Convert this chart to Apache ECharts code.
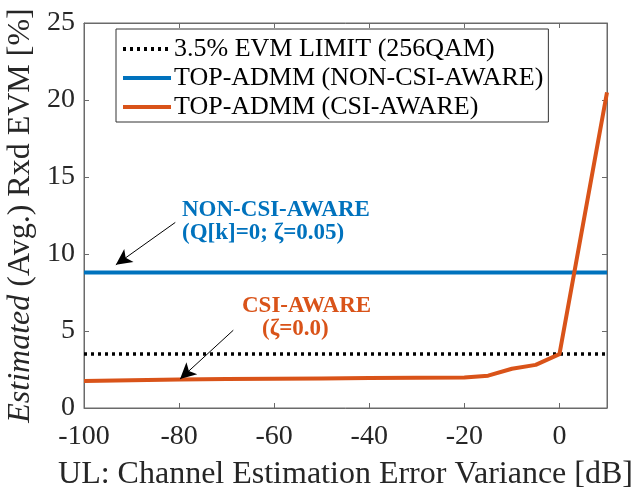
<!DOCTYPE html>
<html>
<head>
<meta charset="utf-8">
<script src="https://cdn.jsdelivr.net/npm/echarts@6/dist/echarts.min.js"></script>
<style>
  html, body { margin: 0; padding: 0; background: #fff; }
  #chart { width: 641px; height: 487px; }
</style>
</head>
<body>
<div id="chart"></div>
<script>
// data
var errVar = [-100, -90, -80, -70, -60, -50, -40, -30, -20, -15, -10, -5, 0, 10];
var csiAware = [1.75, 1.8, 1.85, 1.88, 1.9, 1.92, 1.94, 1.96, 1.98, 2.1, 2.55, 2.8, 3.5, 20.5];
var nonCsiAware = 8.8;
var evmLimit = 3.5;
var xRange = [-100, 10];
var yTicks = [0, 5, 10, 15, 20, 25];
var legendNames = ['3.5% EVM LIMIT (256QAM)', 'TOP-ADMM (NON-CSI-AWARE)', 'TOP-ADMM (CSI-AWARE)'];

var blue = '#0072BD';
var orange = '#D95319';
var serif = 'Liberation Serif';
var axisGray = '#6a6a6a';

function pairs(xs, ys) {
    return xs.map(function (x, i) { return [x, ys[i]]; });
}

// box axes without labels (top / right side of the MATLAB frame)
function frameAxis(pos, min, max, step) {
    return {
        type: 'value', position: pos, min: min, max: max, interval: step,
        axisLine: {show: true, onZero: false, lineStyle: {color: axisGray}},
        axisTick: {show: true, inside: true, length: 5, lineStyle: {color: axisGray}},
        axisLabel: {show: false},
        splitLine: {show: false}
    };
}

var myChart = echarts.init(document.getElementById('chart'));

var option = {
    animation: false,
    textStyle: {fontFamily: serif},
    grid: {
        left: 84, right: 34, top: 23, bottom: 79,
        containLabel: false, outerBoundsMode: 'none',
        show: true, borderColor: axisGray, borderWidth: 1
    },
    legend: {
        left: 116, top: 29,
        orient: 'vertical',
        backgroundColor: '#fff',
        borderColor: '#333', borderWidth: 1,
        padding: [7, 5, 2, 5],
        itemGap: 3,
        itemWidth: 48, itemHeight: 10,
        itemStyle: {opacity: 0},
        lineStyle: {width: 4},
        textStyle: {fontFamily: serif, fontSize: 26, color: '#000', padding: [0, 0, 0, -2]},
        data: legendNames
    },
    xAxis: [{
        type: 'value', min: xRange[0], max: xRange[1], interval: 20,
        name: 'UL: Channel Estimation Error Variance [dB]',
        nameLocation: 'middle', nameGap: 51,
        nameTextStyle: {fontFamily: serif, fontSize: 32, color: '#262626'},
        axisLine: {onZero: false, lineStyle: {color: axisGray}},
        axisTick: {inside: true, length: 5, lineStyle: {color: axisGray}},
        axisLabel: {fontFamily: serif, fontSize: 28, color: '#262626', margin: 15, showMaxLabel: false},
        splitLine: {show: false}
    }, frameAxis('top', xRange[0], xRange[1], 20)],
    yAxis: [{
        type: 'value', min: yTicks[0], max: yTicks[yTicks.length - 1], interval: 5,
        name: '{it|Estimated} (Avg.) Rxd EVM [%]',
        nameLocation: 'middle', nameGap: 43,
        nameTextStyle: {
            fontFamily: serif, fontSize: 32, color: '#262626',
            rich: {it: {fontFamily: serif, fontSize: 32, fontStyle: 'italic', color: '#262626'}}
        },
        axisLine: {show: true, onZero: false, lineStyle: {color: axisGray}},
        axisTick: {inside: true, length: 5, lineStyle: {color: axisGray}},
        axisLabel: {fontFamily: serif, fontSize: 28, color: '#262626', margin: 9},
        splitLine: {show: false}
    }, frameAxis('right', yTicks[0], yTicks[yTicks.length - 1], 5)],
    series: [{
        name: legendNames[0], type: 'line', symbol: 'none',
        color: '#000',
        lineStyle: {color: '#000', width: 3.5, type: [3, 4]},
        data: [[xRange[0], evmLimit], [xRange[1], evmLimit]],
        z: 3
    }, {
        name: legendNames[1], type: 'line', symbol: 'none',
        color: blue,
        lineStyle: {color: blue, width: 4},
        data: [[xRange[0], nonCsiAware], [xRange[1], nonCsiAware]],
        markLine: {
            silent: true, symbol: ['none', 'arrow'], symbolSize: [12, 16],
            label: {show: false},
            lineStyle: {color: '#000', width: 1, type: 'solid'},
            data: [[{coord: [-80.8, 12.05]}, {coord: [-93.3, 9.3]}]]
        }
    }, {
        name: legendNames[2], type: 'line', symbol: 'none',
        color: orange,
        lineStyle: {color: orange, width: 4},
        data: pairs(errVar, csiAware),
        markLine: {
            silent: true, symbol: ['none', 'arrow'], symbolSize: [12, 16],
            label: {show: false},
            lineStyle: {color: '#000', width: 1, type: 'solid'},
            data: [[{coord: [-68.6, 5.05]}, {coord: [-79.8, 1.88]}]]
        }
    }],
    graphic: [{
        type: 'text', left: 182, top: 199,
        style: {text: 'NON-CSI-AWARE\n(Q[k]=0; ζ=0.05)', fill: blue, font: 'bold 23px "Liberation Serif"', lineHeight: 23}
    }, {
        type: 'text', left: 242, top: 295,
        style: {text: 'CSI-AWARE', fill: orange, font: 'bold 23px "Liberation Serif"'}
    }, {
        type: 'text', left: 262, top: 318,
        style: {text: '(ζ=0.0)', fill: orange, font: 'bold 23px "Liberation Serif"'}
    }]
};

myChart.setOption(option);
</script>
</body>
</html>
